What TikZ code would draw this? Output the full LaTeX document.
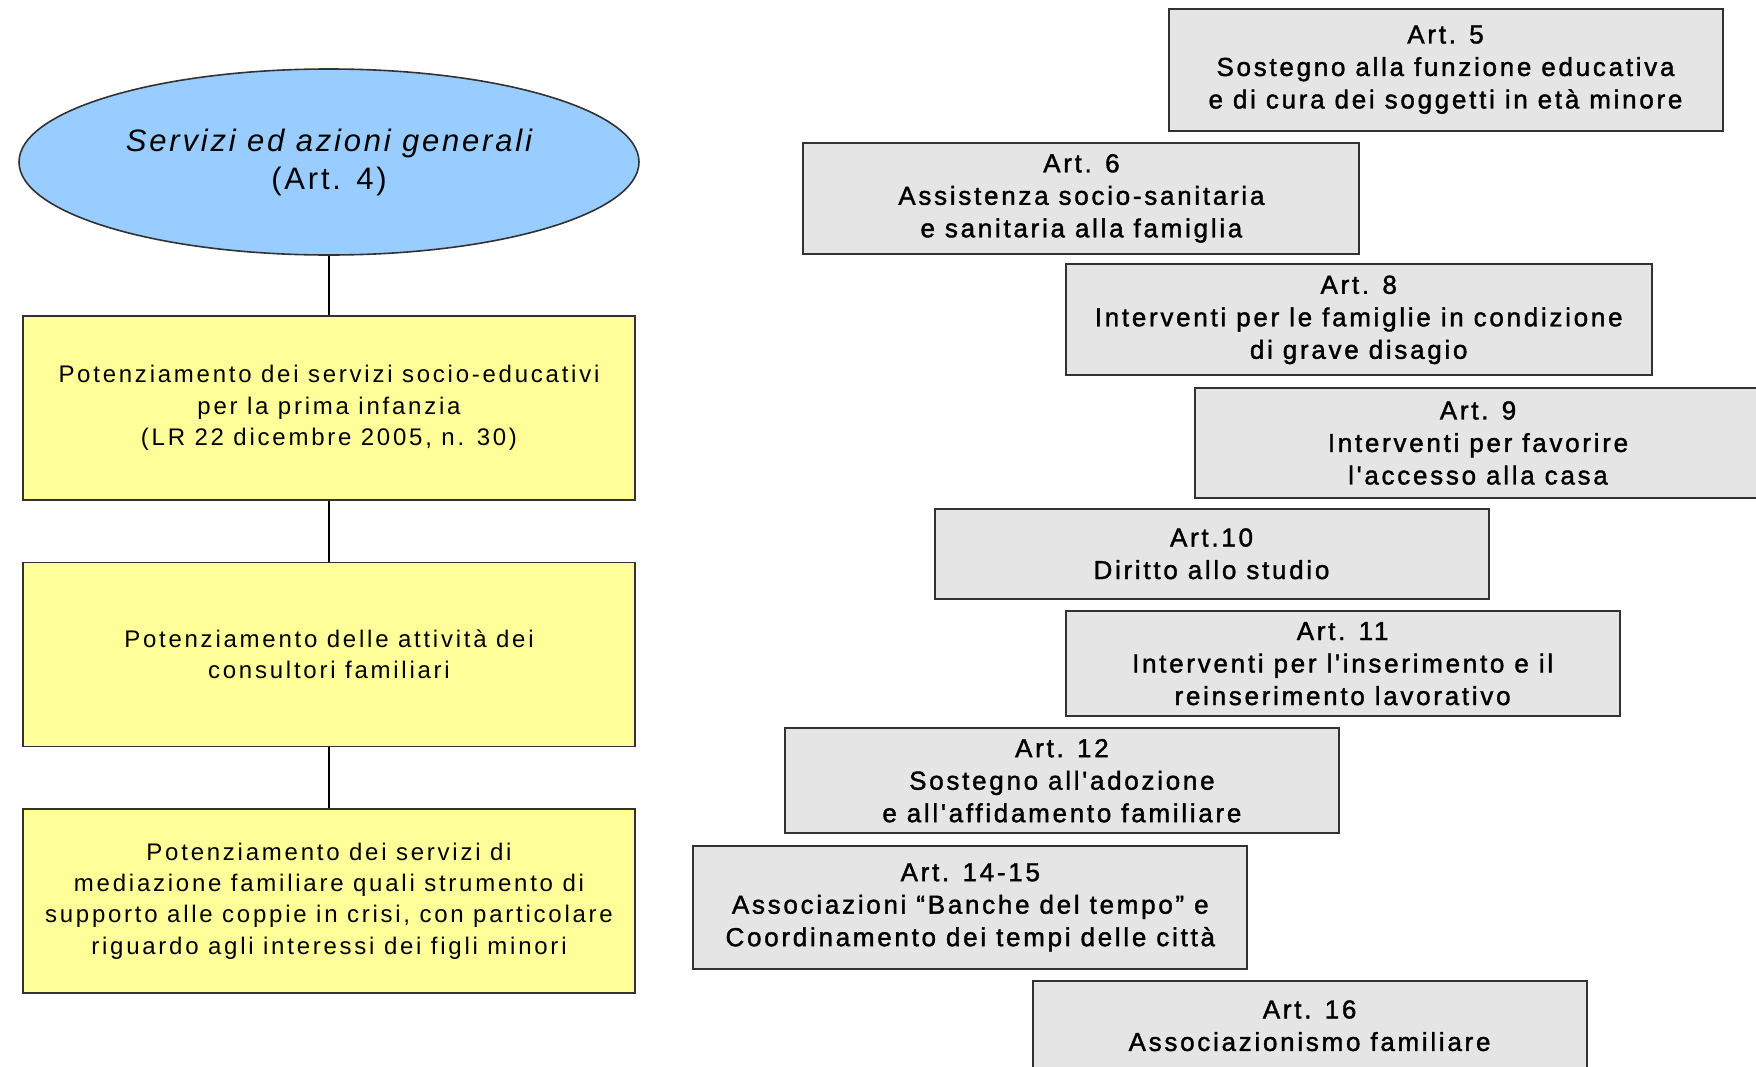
\documentclass[tikz,border=0pt]{standalone}
\usepackage{fontspec}
\setmainfont{Liberation Sans}
\newfontfamily\artfont[LetterSpace=10.5,FakeBold=1.5]{Liberation Sans}
\newfontfamily\potfont[LetterSpace=11.5]{Liberation Sans}
\newfontfamily\ellfont[LetterSpace=9]{Liberation Sans}
\usepackage{tikz}
\usetikzlibrary{shapes.geometric}
\definecolor{skyblue}{RGB}{153,204,255}
\definecolor{paleyellow}{RGB}{255,255,153}
\definecolor{boxgray}{RGB}{229,229,229}
\definecolor{edgegray}{RGB}{50,50,50}

\begin{document}
\begin{tikzpicture}[x=0.5pt, y=-0.5pt,
	general/.style={ellipse, draw=edgegray, line width=0.8pt, fill=skyblue, inner sep=0pt,
		minimum width=310pt, minimum height=93pt, align=center,
		font=\ellfont\fontsize{15.5}{19}\selectfont},
	potbox/.style={rectangle, draw=edgegray, line width=0.8pt, fill=paleyellow, inner sep=0pt,
		minimum width=306pt, minimum height=92pt, align=center,
		font=\potfont\fontsize{12}{15.7}\selectfont},
	artbox/.style={rectangle, draw=edgegray, line width=1pt, fill=boxgray, inner sep=0pt,
		minimum width=277pt, align=center,
		font=\artfont\fontsize{13}{16.25}\selectfont},
	link/.style={draw=black, line width=0.6pt}]
			\useasboundingbox (0,0) rectangle (1756,1066);
			\node[general] (gen) at (329,162) {\itshape Servizi ed azioni generali\\(Art. 4)};
			\node[potbox] (pot1) at (329,408) {Potenziamento dei servizi socio-educativi\\per la prima infanzia\\(LR 22 dicembre 2005, n. 30)};
			\node[potbox] (pot2) at (329,654.5) {Potenziamento delle attività dei\\consultori familiari};
			\node[potbox] (pot3) at (329,901) {Potenziamento dei servizi di\\mediazione familiare quali strumento di\\supporto alle coppie in crisi, con particolare\\riguardo agli interessi dei figli minori};
			\draw[link] (gen) -- (pot1);
			\draw[link] (pot1) -- (pot2);
			\draw[link] (pot2) -- (pot3);
			\node[artbox, minimum height=61pt] (art5) at (1445.5,69.7) {Art. 5\\Sostegno alla funzione educativa\\e di cura dei soggetti in età minore};
			\node[artbox, minimum width=278pt, minimum height=55.5pt] (art6) at (1081.4,198.4) {Art. 6\\Assistenza socio-sanitaria\\e sanitaria alla famiglia};
			\node[artbox, minimum width=293pt, minimum height=55.5pt] (art8) at (1358.7,319.9) {Art. 8\\Interventi per le famiglie in condizione\\di grave disagio};
			\node[artbox, minimum width=283pt, minimum height=55pt] (art9) at (1478,443) {Art. 9\\Interventi per favorire\\l'accesso alla casa};
			\node[artbox, minimum height=44.75pt] (art10) at (1211.5,553.8) {Art.10\\Diritto allo studio};
			\node[artbox, minimum height=52.5pt] (art11) at (1342.6,663.7) {Art. 11\\Interventi per l'inserimento e il\\reinserimento lavorativo};
			\node[artbox, minimum height=52.5pt] (art12) at (1061.9,780.7) {Art. 12\\Sostegno all'adozione\\e all'affidamento familiare};
			\node[artbox, minimum height=61.5pt] (art14) at (970.3,907.4) {Art. 14-15\\Associazioni “Banche del tempo” e\\Coordinamento dei tempi delle città};
			\node[artbox, minimum height=44.5pt] (art16) at (1309.6,1025.7) {Art. 16\\Associazionismo familiare};
\end{tikzpicture}
\end{document}
